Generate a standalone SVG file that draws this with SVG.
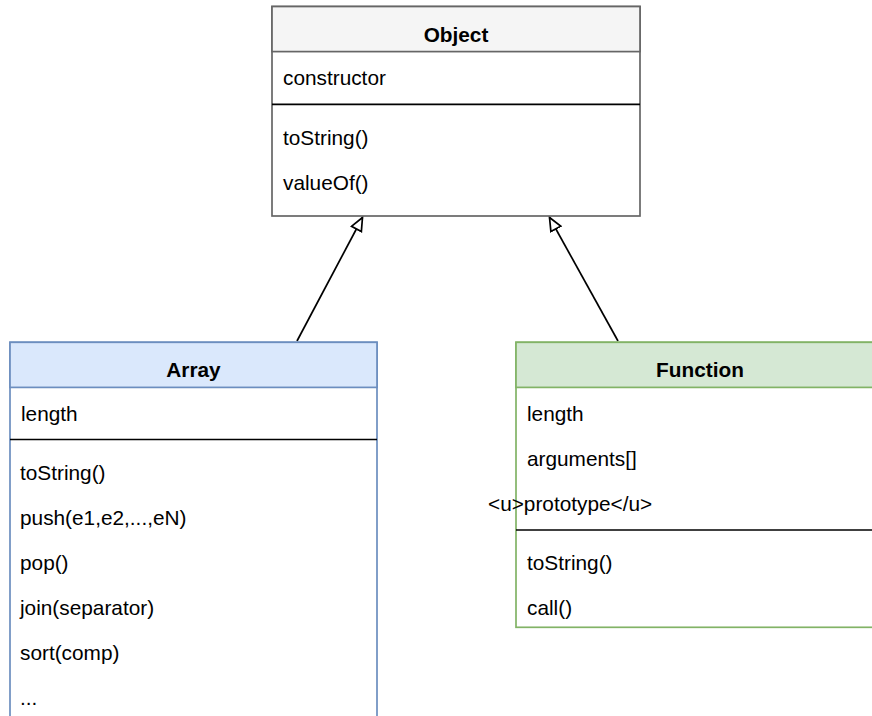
<svg xmlns="http://www.w3.org/2000/svg" width="872" height="716" viewBox="0 0 872 716">
<defs>
<style>
text{font-family:"Liberation Sans",Arial,sans-serif;font-size:20.8px;fill:#000}
.t{font-weight:bold;text-anchor:middle}
.div{stroke:#000;stroke-width:1.7}
.edge{stroke:#000;stroke-width:1.7;fill:none}
</style>
<marker id="tri" markerUnits="userSpaceOnUse" markerWidth="16" markerHeight="14" refX="13" refY="5.6" orient="auto" viewBox="-1 -1 16 14">
<path d="M0,0 L13,5.6 L0,11.2 Z" fill="#fff" stroke="#000" stroke-width="1.7" stroke-linejoin="miter"/>
</marker>
</defs>
<rect width="872" height="716" fill="#fff"/>
<g id="connectors">
<line class="edge" x1="297" y1="341" x2="362.5" y2="217.5" marker-end="url(#tri)"/>
<line class="edge" x1="618" y1="341" x2="549.5" y2="217.5" marker-end="url(#tri)"/>
</g>
<g id="Object">
<rect x="272" y="6.5" width="368" height="209.5" fill="#fff" stroke="#666666" stroke-width="1.7"/>
<rect x="272" y="6.5" width="368" height="45.1" fill="#f5f5f5" stroke="#666666" stroke-width="1.7"/>
<text class="t" x="456" y="41.5">Object</text>
<text x="283" y="85">constructor</text>
<line class="div" x1="272" y1="104.3" x2="640" y2="104.3"/>
<text x="283" y="144.5">toString()</text>
<text x="283" y="189.5">valueOf()</text>
</g>
<g id="Array">
<rect x="10" y="342.3" width="367" height="390" fill="#fff" stroke="#6c8ebf" stroke-width="1.7"/>
<rect x="10" y="342.3" width="367" height="45.1" fill="#dae8fc" stroke="#6c8ebf" stroke-width="1.7"/>
<text class="t" x="193.5" y="377">Array</text>
<text x="21" y="420.5">length</text>
<line class="div" x1="10" y1="439.5" x2="377" y2="439.5"/>
<text x="20" y="480">toString()</text>
<text x="20" y="525">push(e1,e2,...,eN)</text>
<text x="20" y="570">pop()</text>
<text x="20" y="615">join(separator)</text>
<text x="20" y="660">sort(comp)</text>
<text x="20" y="705">...</text>
</g>
<g id="Function">
<rect x="516" y="342.3" width="368" height="285" fill="#fff" stroke="#82b366" stroke-width="1.7"/>
<rect x="516" y="342.3" width="368" height="45.1" fill="#d5e8d4" stroke="#82b366" stroke-width="1.7"/>
<text class="t" x="700" y="377">Function</text>
<text x="527" y="420.5">length</text>
<text x="527" y="465.5">arguments[]</text>
<text x="488" y="511">&lt;u&gt;prototype&lt;/u&gt;</text>
<line class="div" x1="516" y1="530" x2="884" y2="530"/>
<text x="527" y="570">toString()</text>
<text x="527" y="615">call()</text>
</g>
</svg>
